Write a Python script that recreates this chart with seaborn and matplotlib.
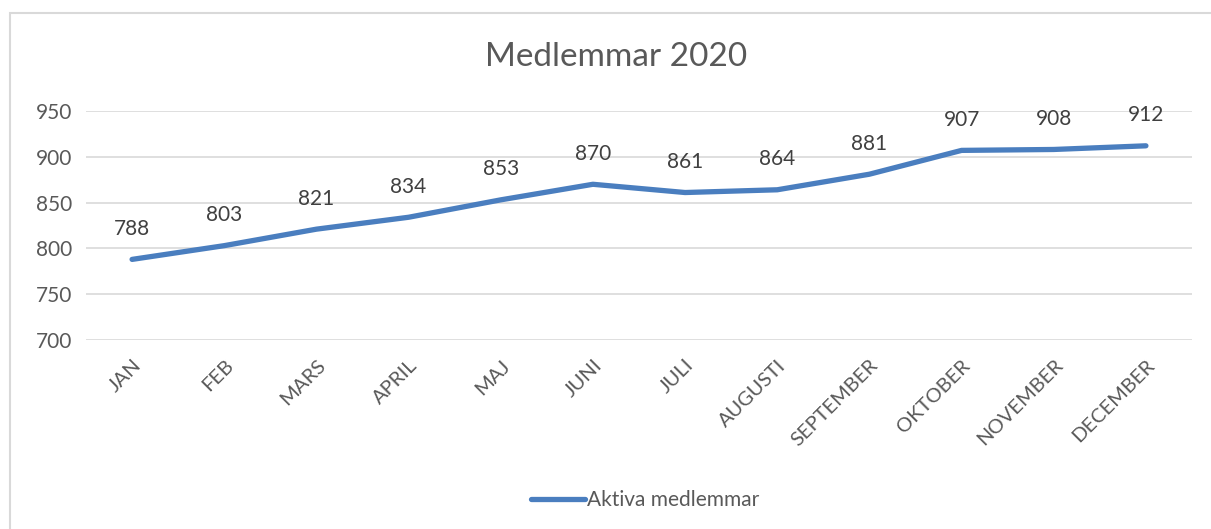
import matplotlib
matplotlib.use("Agg")
import matplotlib.pyplot as plt
import seaborn as sns
import pandas as pd
from matplotlib.patches import Rectangle
from matplotlib.lines import Line2D

months = ["JAN", "FEB", "MARS", "APRIL", "MAJ", "JUNI", "JULI", "AUGUSTI",
          "SEPTEMBER", "OKTOBER", "NOVEMBER", "DECEMBER"]
members = [788, 803, 821, 834, 853, 870, 861, 864, 881, 907, 908, 912]
series_name = "Aktiva medlemmar"
yticks = [700, 750, 800, 850, 900, 950]

df = pd.DataFrame({"month": months, "value": members, "series": series_name})

sns.set_style("white")
plt.rcParams["font.family"] = ["Lato", "DejaVu Sans"]

W, H = 1211, 529
fig = plt.figure(figsize=(W / 100, H / 100), dpi=100)
ax = fig.add_axes([86 / W, 1 - 340 / H, (1192 - 86) / W, (340 - 111) / H])

blue = "#4A7EBF"
sns.lineplot(data=df, x=range(len(months)), y="value", hue="series",
             palette=[blue], linewidth=3.8, ax=ax, sort=False,
             solid_capstyle="round", legend=False)

ax.set_xlim(-0.5, len(months) - 0.5)
ax.set_ylim(700, 950)
ax.set_yticks(yticks)
ax.set_yticklabels([str(t) for t in yticks], fontsize=15, color="#595959")
ax.set_xticks(range(len(months)))
ax.set_xticklabels(months, rotation=45, ha="right", rotation_mode="anchor",
                   fontsize=14.5, color="#595959")
ax.tick_params(axis="y", length=0, pad=10)
ax.tick_params(axis="x", length=0, pad=12)
ax.grid(axis="y", color="#d9d9d9", linewidth=1.2)
ax.set_axisbelow(True)
for s in ax.spines.values():
    s.set_visible(False)
ax.set_xlabel("")
ax.set_ylabel("")

for i, v in enumerate(members):
    ax.annotate(str(v), (i, v), xytext=(0, 22), textcoords="offset points",
                ha="center", va="center", fontsize=15, color="#404040")

fig.text(616 / W, 1 - 57 / H, "Medlemmar 2020", ha="center", va="center",
         fontsize=24, color="#595959")

handle = Line2D([0], [0], color=blue, linewidth=3.8, solid_capstyle="round")
fig.legend([handle], [series_name], loc="center", bbox_to_anchor=(645 / W, 1 - 500 / H),
           frameon=False, fontsize=15, handlelength=2.6, handletextpad=0.1,
           labelcolor="#595959")

fig.patches.append(Rectangle((10 / W, -0.1), 1.2, 1 - 13 / H + 0.1,
                             transform=fig.transFigure, fill=False,
                             edgecolor="#d9d9d9", linewidth=1.5))

fig.savefig("out.png", dpi=100)
